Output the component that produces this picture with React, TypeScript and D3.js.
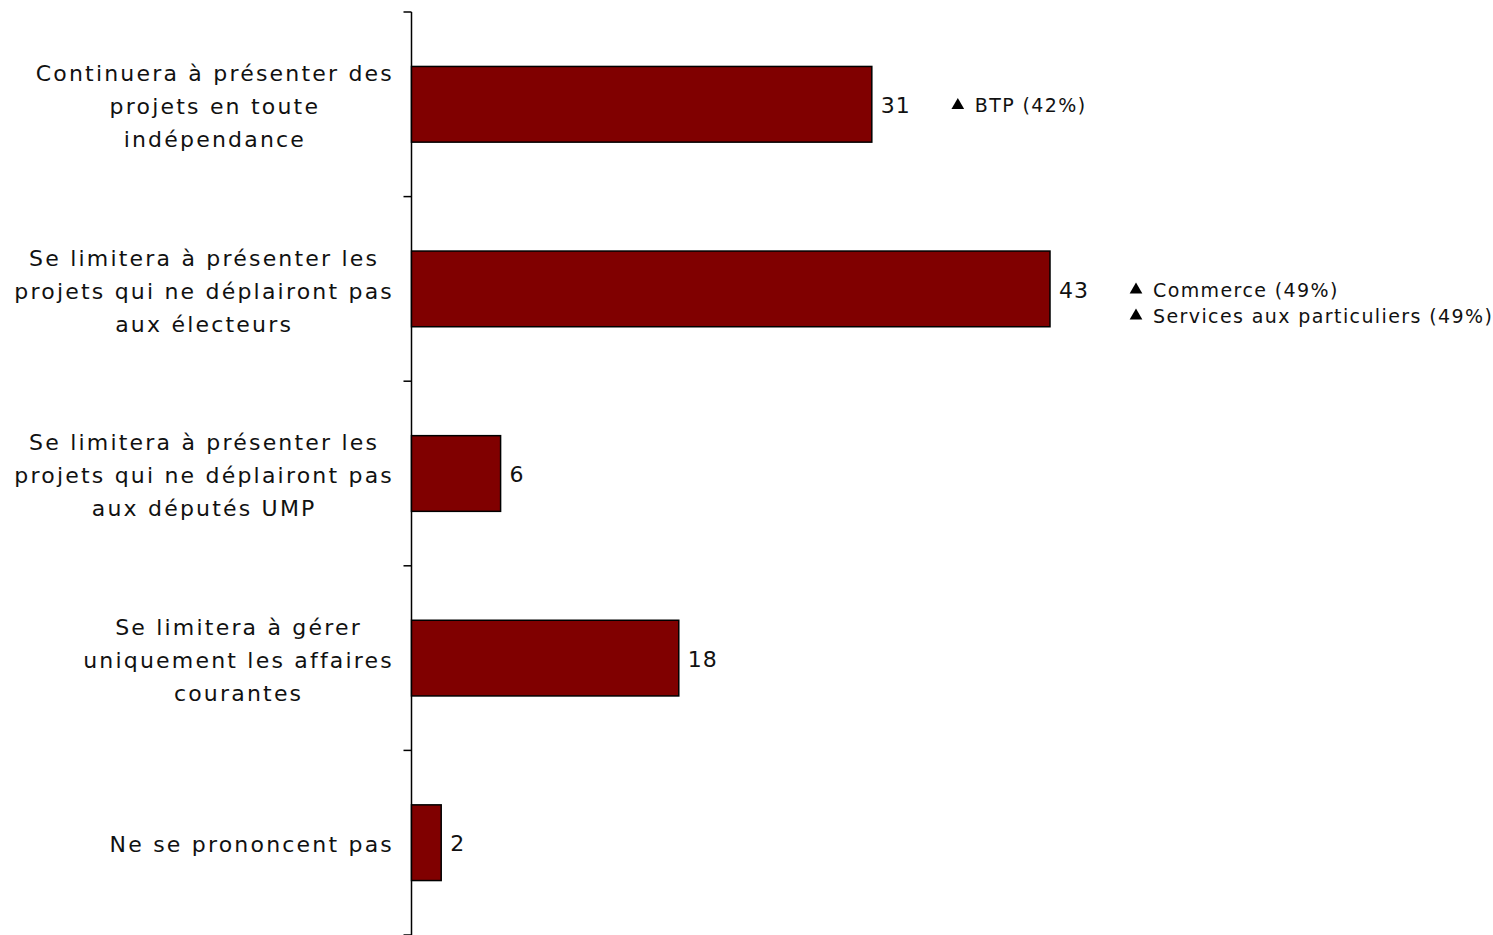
import React, { useEffect, useRef } from "react";
import * as d3 from "d3";

const categories: string[][] = [
  ["Continuera à présenter des", "projets en toute", "indépendance"],
  ["Se limitera à présenter les", "projets qui ne déplairont pas", "aux électeurs"],
  ["Se limitera à présenter les", "projets qui ne déplairont pas", "aux députés UMP"],
  ["Se limitera à gérer", "uniquement les affaires", "courantes"],
  ["Ne se prononcent pas"],
];
const values: number[] = [31, 43, 6, 18, 2];
const annotations: string[][] = [
  ["BTP (42%)"],
  ["Commerce (49%)", "Services aux particuliers (49%)"],
  [],
  [],
  [],
];

const W = 1493;
const H = 935;
const FONT = "DejaVu Sans, Verdana, sans-serif";

export default function App() {
  const ref = useRef<SVGSVGElement>(null);
  useEffect(() => {
    const svg = d3.select(ref.current);
    svg.selectAll("*").remove();
    const x0 = 411.5;
    const y = d3
      .scaleBand<number>()
      .domain(values.map((_, i) => i))
      .range([12, 935])
      .paddingInner(0.59)
      .paddingOuter(0.295);
    const x = d3.scaleLinear().domain([0, 43]).range([x0, 1050]);

    // axis
    svg.append("line").attr("x1", x0).attr("x2", x0).attr("y1", 12).attr("y2", H)
      .attr("stroke", "#000").attr("stroke-width", 1.5);
    for (let i = 0; i <= values.length; i++) {
      const ty = 12 + i * (923 / values.length);
      svg.append("line").attr("x1", x0 - 8).attr("x2", x0).attr("y1", ty).attr("y2", ty)
        .attr("stroke", "#000").attr("stroke-width", 1.5);
    }

    values.forEach((v, i) => {
      const by = y(i)!;
      const bh = y.bandwidth();
      const cy = by + bh / 2;
      svg.append("rect").attr("x", x0).attr("y", by).attr("width", x(v) - x0).attr("height", bh)
        .attr("fill", "#800000").attr("stroke", "#000").attr("stroke-width", 1.5);
      svg.append("text").attr("x", x(v) + 9).attr("y", cy + 1).attr("dy", "0.35em")
        .attr("font-family", FONT).attr("font-size", 22).attr("letter-spacing", 1)
        .attr("fill", "#111").text(String(v));

      // category label
      const lines = categories[i];
      const g = svg.append("g");
      const texts = lines.map((l) =>
        g.append("text").attr("font-family", FONT).attr("font-size", 22)
          .attr("letter-spacing", 2.2).attr("fill", "#111")
          .attr("text-anchor", "middle").text(l)
      );
      const maxW = d3.max(texts, (t) => (t.node() as SVGTextElement).getComputedTextLength()) || 0;
      const lh = 33;
      const cx = 394 - maxW / 2;
      texts.forEach((t, k) => {
        t.attr("x", cx).attr("y", cy + 2 + (k - (lines.length - 1) / 2) * lh).attr("dy", "0.35em");
      });

      // annotations
      const ann = annotations[i];
      const ax = x(v) + 80;
      ann.forEach((a, k) => {
        const ay = cy + 1 + k * 26;
        svg.append("path")
          .attr("d", d3.symbol(d3.symbolTriangle, 70)())
          .attr("transform", `translate(${ax + 6},${ay})`)
          .attr("fill", "#000");
        svg.append("text").attr("x", ax + 23).attr("y", ay).attr("dy", "0.35em")
          .attr("font-family", FONT).attr("font-size", 19).attr("letter-spacing", 1.4)
          .attr("fill", "#111").text(a);
      });
    });
  }, []);
  return (
    <svg ref={ref} width={W} height={H} style={{ position: "absolute", left: 0, top: 0, background: "#fff" }} />
  );
}
